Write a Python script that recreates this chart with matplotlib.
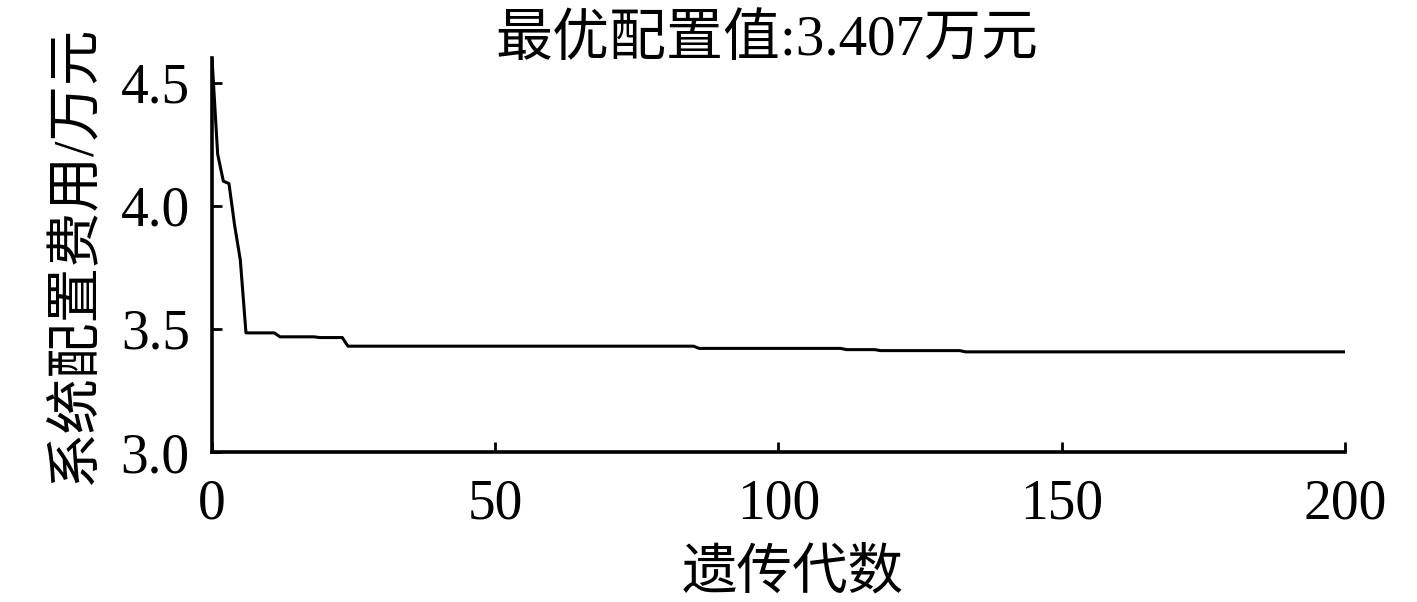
import matplotlib
matplotlib.use("Agg")
import matplotlib.pyplot as plt
import numpy as np

plt.rcParams['font.family'] = ['Liberation Serif', 'Noto Sans CJK SC']
plt.rcParams['axes.unicode_minus'] = False

# first generations, read point by point
early_gen = [0, 1, 2, 3, 4, 5]
early_cost = [4.60, 4.21, 4.10, 4.09, 3.92, 3.78]

# after that the best cost only steps down; (first generation, level)
step_gen = [6, 12, 19, 24, 86, 112, 118, 133]
step_cost = [3.484, 3.468, 3.465, 3.430, 3.421, 3.416, 3.412, 3.407]
last_gen = 200

xticks = [0, 50, 100, 150, 200]
yticks = [3.0, 3.5, 4.0, 4.5]

# expand the step levels over each generation
ends = step_gen[1:] + [last_gen + 1]
gens = list(early_gen)
cost = list(early_cost)
for s, e, c in zip(step_gen, ends, step_cost):
    gens += list(range(s, e))
    cost += [c] * (e - s)

fig = plt.figure(figsize=(14.17, 6.02), dpi=100)
ax = fig.add_axes([0.1496, 0.249, 0.7996, 0.6547])

ax.plot(gens, cost, color='black', lw=2.2)

ax.set_xlim(0, 200)
ax.set_ylim(3.0, 4.6)
ax.set_xticks(xticks)
ax.set_yticks(yticks)
ax.set_yticklabels(['%.1f' % v for v in yticks])

ax.spines['top'].set_visible(False)
ax.spines['right'].set_visible(False)
for s in ['left', 'bottom']:
    ax.spines[s].set_linewidth(2.6)

ax.tick_params(direction='in', length=7, width=2, labelsize=40)
ax.tick_params(axis='y', pad=16)
ax.tick_params(axis='x', pad=19)

ax.set_title('最优配置值:3.407万元', fontsize=41, x=0.49, y=1.0, pad=2)
ax.set_xlabel('遗传代数', fontsize=40)
ax.xaxis.set_label_coords(0.513, -0.245)
ax.set_ylabel('系统配置费用/万元', fontsize=40, labelpad=14)

fig.savefig('out.png', dpi=100, facecolor='white')
